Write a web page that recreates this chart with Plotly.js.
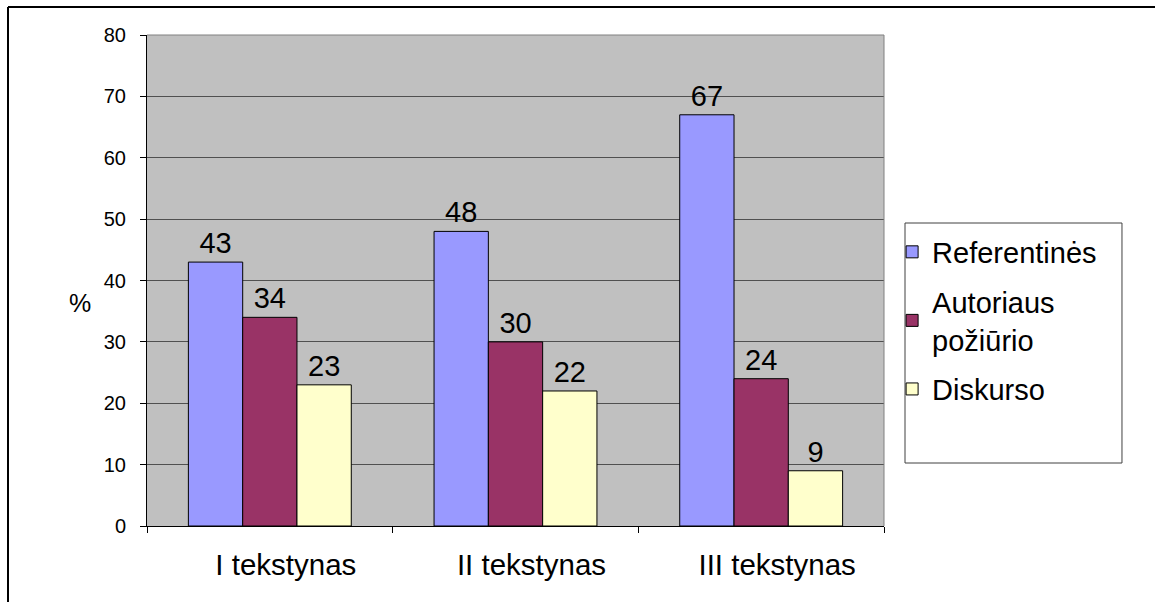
<!DOCTYPE html>
<html>
<head>
<meta charset="utf-8">
<script src="https://cdn.plot.ly/plotly-3.0.1.min.js"></script>
<style>html,body{margin:0;padding:0;background:#fff;}#chart{width:1155px;height:602px;}</style>
</head>
<body>
<div id="chart"></div>
<script>
const categories = ["I tekstynas", "II tekstynas", "III tekstynas"];
const seriesNames = ["Referentinės", "Autoriaus<br>požiūrio", "Diskurso"];
const referentines = [43, 48, 67];
const autoriaus = [34, 30, 24];
const diskurso = [23, 22, 9];
const yTicks = [0, 10, 20, 30, 40, 50, 60, 70, 80];
const colors = ["#9999ff", "#993366", "#ffffcc"];

const allValues = [referentines, autoriaus, diskurso];
const font = "Liberation Sans, Arial, sans-serif";

const traces = allValues.map((vals, i) => ({
  type: "bar",
  name: seriesNames[i],
  x: categories,
  y: vals,
  text: vals.map(String),
  textposition: "outside",
  cliponaxis: false,
  textfont: {family: font, size: 29, color: "#000"},
  marker: {color: colors[i], line: {color: "#000", width: 1}},
  legendgroup: "g" + i,
  hoverinfo: "x+y"
}));

const layout = {
  width: 1155, height: 602,
  margin: {l: 147, r: 271, t: 35, b: 76},
  paper_bgcolor: "#ffffff",
  plot_bgcolor: "#c0c0c0",
  barmode: "group",
  bargap: 0.337,
  bargroupgap: 0,
  font: {family: font, color: "#000"},
  showlegend: true,
  legend: {
    x: 1.011, xanchor: "left", y: 0.61, yanchor: "top",
    bgcolor: "rgba(0,0,0,0)", borderwidth: 0,
    font: {family: font, size: 29, color: "#000"},
    traceorder: "grouped", tracegroupgap: 9
  },
  xaxis: {
    type: "category",
    tickson: "boundaries",
    ticks: "outside", ticklen: 6, tickcolor: "#000",
    showline: true, linecolor: "#000", linewidth: 1,
    showgrid: false, zeroline: false,
    tickfont: {family: font, size: 29.5, color: "#000"},
    ticklabelstandoff: 13,
    ticklabelshift: 16
  },
  yaxis: {
    range: [0, 80],
    tickvals: yTicks,
    ticktext: yTicks.map(String),
    ticks: "outside", ticklen: 6, tickcolor: "#000",
    showline: true, linecolor: "#000", linewidth: 1,
    showgrid: true, gridcolor: "#505050", gridwidth: 1,
    zeroline: false,
    tickfont: {family: font, size: 20, color: "#000"},
    ticklabelstandoff: 10
  },
  annotations: [{
    text: "%", xref: "paper", yref: "paper", x: -0.0909, y: 0.454,
    xanchor: "center", yanchor: "middle", showarrow: false,
    font: {family: font, size: 25, color: "#000"}
  }],
  shapes: [
    {type: "line", xref: "paper", yref: "paper", x0: 1, x1: 1, y0: 0, y1: 1, line: {color: "#808080", width: 1}},
    {type: "line", xref: "paper", yref: "paper", x0: 0, x1: 1, y0: 1, y1: 1, line: {color: "#808080", width: 1}},
    {type: "rect", xref: "paper", yref: "paper", x0: 1.0285, x1: 1.3229, y0: 0.1283, y1: 0.6171, line: {color: "#404040", width: 1}, fillcolor: "rgba(0,0,0,0)"},
    {type: "line", xref: "paper", yref: "paper", x0: -0.1886, x1: 1.40, y0: 1.057, y1: 1.057, line: {color: "#000", width: 2}},
    {type: "line", xref: "paper", yref: "paper", x0: -0.1886, x1: -0.1886, y0: -0.2, y1: 1.057, line: {color: "#000", width: 2}}
  ]
};

Plotly.newPlot("chart", traces, layout, {displayModeBar: false, staticPlot: true});
</script>
</body>
</html>
